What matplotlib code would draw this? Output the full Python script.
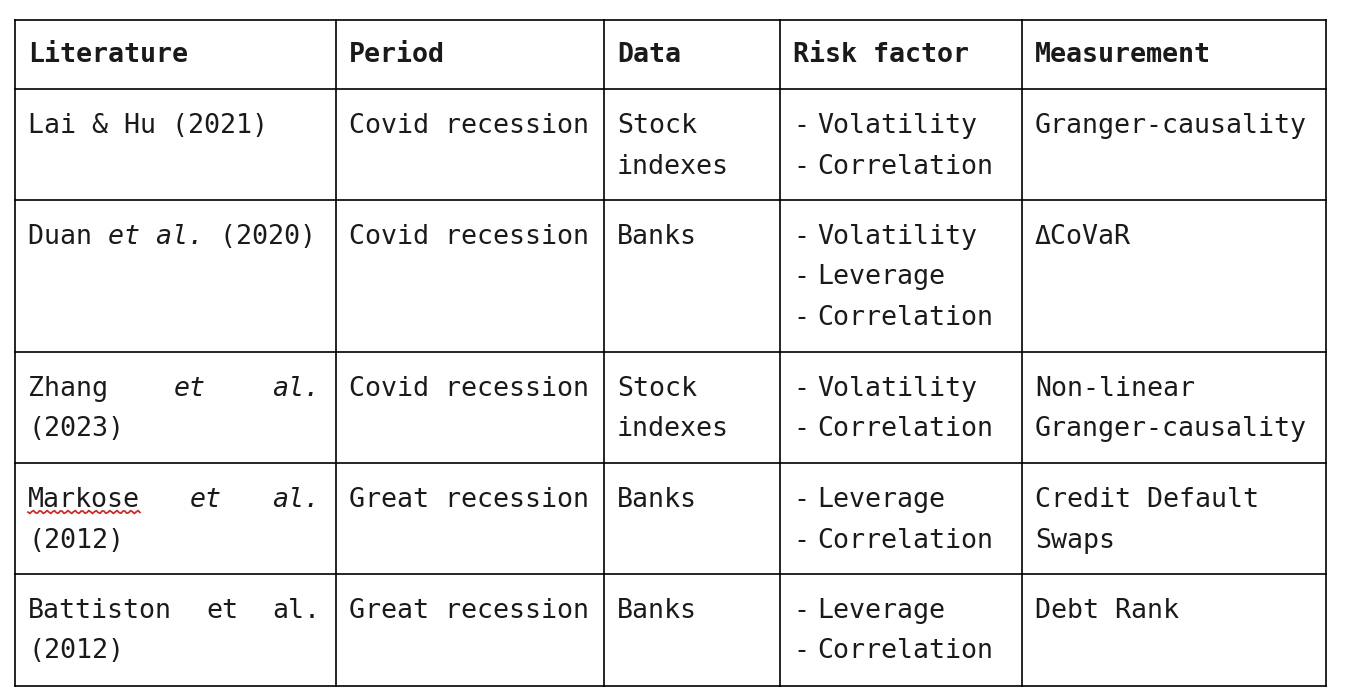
import matplotlib.pyplot as plt
import numpy as np

headers = ["Literature", "Period", "Data", "Risk factor", "Measurement"]
# literature column: list of lines, each line a list of (word, italic)
literature = [
    [[("Lai & Hu (2021)", False)]],
    [[("Duan ", False), ("et al.", True), (" (2020)", False)]],
    [[("Zhang", False), ("et", True), ("al.", True)], [("(2023)", False)]],
    [[("Markose", False), ("et", True), ("al.", True)], [("(2012)", False)]],
    [[("Battiston", False), ("et", False), ("al.", False)], [("(2012)", False)]],
]
periods = ["Covid recession", "Covid recession", "Covid recession", "Great recession", "Great recession"]
data = [["Stock", "indexes"], ["Banks"], ["Stock", "indexes"], ["Banks"], ["Banks"]]
risk = [["Volatility", "Correlation"],
        ["Volatility", "Leverage", "Correlation"],
        ["Volatility", "Correlation"],
        ["Leverage", "Correlation"],
        ["Leverage", "Correlation"]]
measure = [["Granger-causality"], ["\u0394CoVaR"], ["Non-linear", "Granger-causality"],
           ["Credit Default", "Swaps"], ["Debt Rank"]]

col_x = [15, 336, 604, 780, 1022, 1326]
row_y = [20, 89, 200, 352, 463, 574, 686]
pad = 13
cw = 16.0   # char width in px
lh = 40.5   # line height
fs = 19.15
font = "DejaVu Sans Mono"

fig = plt.figure(figsize=(13.46, 7.0), dpi=100)
ax = fig.add_axes([0, 0, 1, 1])
ax.set_xlim(0, 1346)
ax.set_ylim(700, 0)
ax.axis("off")

for x in col_x:
    ax.plot([x, x], [row_y[0], row_y[-1]], color="black", lw=1.2)
for y in row_y:
    ax.plot([col_x[0], col_x[-1]], [y, y], color="black", lw=1.2)

def put(x, y, s, italic=False, bold=False):
    ax.text(x, y, s, fontsize=fs, family=font, va="center", ha="left",
            style="italic" if italic else "normal",
            weight="bold" if bold else "normal", color="#1a1a1a")

for j, h in enumerate(headers):
    put(col_x[j] + pad, 55, h, bold=True)

right0 = col_x[1] - 16
for i in range(5):
    y0 = row_y[i + 1] + 37
    # literature column
    for k, line in enumerate(literature[i]):
        y = y0 + k * lh
        if len(line) == 3 and k == 0 and len(literature[i]) > 1:
            # justified line
            w = [len(t) * cw for t, _ in line]
            start = col_x[0] + pad
            gap = (right0 - start - sum(w)) / 2
            x = start
            for (t, it), ww in zip(line, w):
                put(x, y, t, italic=it)
                x += ww + gap
        else:
            x = col_x[0] + pad
            for t, it in line:
                put(x, y, t, italic=it)
                x += len(t) * cw
    put(col_x[1] + pad, y0, periods[i])
    for k, s in enumerate(data[i]):
        put(col_x[2] + pad, y0 + k * lh, s)
    for k, s in enumerate(risk[i]):
        put(col_x[3] + 13, y0 + k * lh, "-")
        put(col_x[3] + 37, y0 + k * lh, s)
    for k, s in enumerate(measure[i]):
        put(col_x[4] + pad, y0 + k * lh, s)

# red spell-check squiggle under "Markose"
xs = np.linspace(28, 140, 60)
ax.plot(xs, 512 + 1.5 * np.sin(xs * 0.9), color="#d62020", lw=1.2)

fig.savefig("out.png", dpi=100, facecolor="white")
